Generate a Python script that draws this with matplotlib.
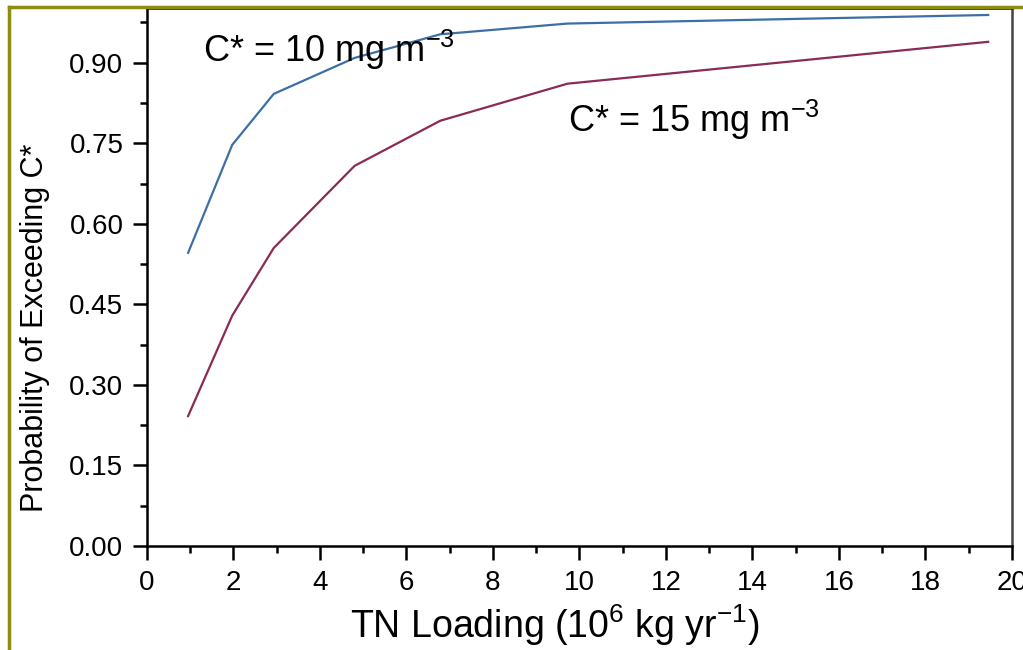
import matplotlib
matplotlib.use("Agg")
import matplotlib.pyplot as plt
from matplotlib.lines import Line2D
from matplotlib.ticker import MultipleLocator, FormatStrFormatter

plt.rcParams["font.family"] = ["Liberation Sans", "DejaVu Sans"]
plt.rcParams["mathtext.fontset"] = "custom"
plt.rcParams["mathtext.rm"] = "Liberation Sans"
plt.rcParams["mathtext.it"] = "Liberation Sans"

# TN loading (10^6 kg/yr) and probability of exceeding C*
tn_loading = [0.95, 1.97, 2.93, 4.8, 6.78, 9.72, 19.45]
prob_c10 = [0.546, 0.747, 0.842, 0.909, 0.953, 0.973, 0.989]
prob_c15 = [0.242, 0.429, 0.555, 0.708, 0.792, 0.861, 0.939]

fig = plt.figure(figsize=(10.23, 6.5), dpi=100)
ax = fig.add_axes([0.1437, 0.16, 0.8455, 0.8277])

ax.plot(tn_loading, prob_c10, color="#3d6fa6", lw=1.6)
ax.plot(tn_loading, prob_c15, color="#8a2a55", lw=1.6)

ax.text(1.29, 0.902, r"C* = 10 mg m$^{\mathregular{-3}}$", fontsize=26)
ax.text(9.73, 0.771, r"C* = 15 mg m$^{\mathregular{-3}}$", fontsize=26)

ax.set_xlim(0, 20)
ax.set_ylim(0, 1.002)
ax.xaxis.set_major_locator(MultipleLocator(2))
ax.xaxis.set_minor_locator(MultipleLocator(1))
ax.yaxis.set_major_locator(MultipleLocator(0.15))
ax.yaxis.set_minor_locator(MultipleLocator(0.075))
ax.yaxis.set_major_formatter(FormatStrFormatter("%.2f"))
ax.tick_params(which="major", direction="out", length=10, width=1.8, labelsize=20, pad=7)
ax.tick_params(which="minor", direction="out", length=5, width=1.8)
for s in ax.spines.values():
    s.set_linewidth(1.8)
ax.spines["right"].set_color("#444444")

ax.set_xlabel(r"TN Loading (10$^{\mathregular{6}}$ kg yr$^{\mathregular{-1}}$)", fontsize=27, va="center")
ax.set_ylabel("Probability of Exceeding C*", fontsize=22, va="center")
ax.xaxis.set_label_coords(0.472, -0.147)
ax.yaxis.set_label_coords(-0.129, 0.405)

# olive frame lines on the left and top of the slide
fig.add_artist(Line2D([0.0088, 0.0088], [0, 0.9892], transform=fig.transFigure, color="#8c8c10", lw=2.5))
fig.add_artist(Line2D([0.0088, 1], [0.9892, 0.9892], transform=fig.transFigure, color="#8c8c10", lw=2.5))

fig.savefig("out.png", dpi=100)
